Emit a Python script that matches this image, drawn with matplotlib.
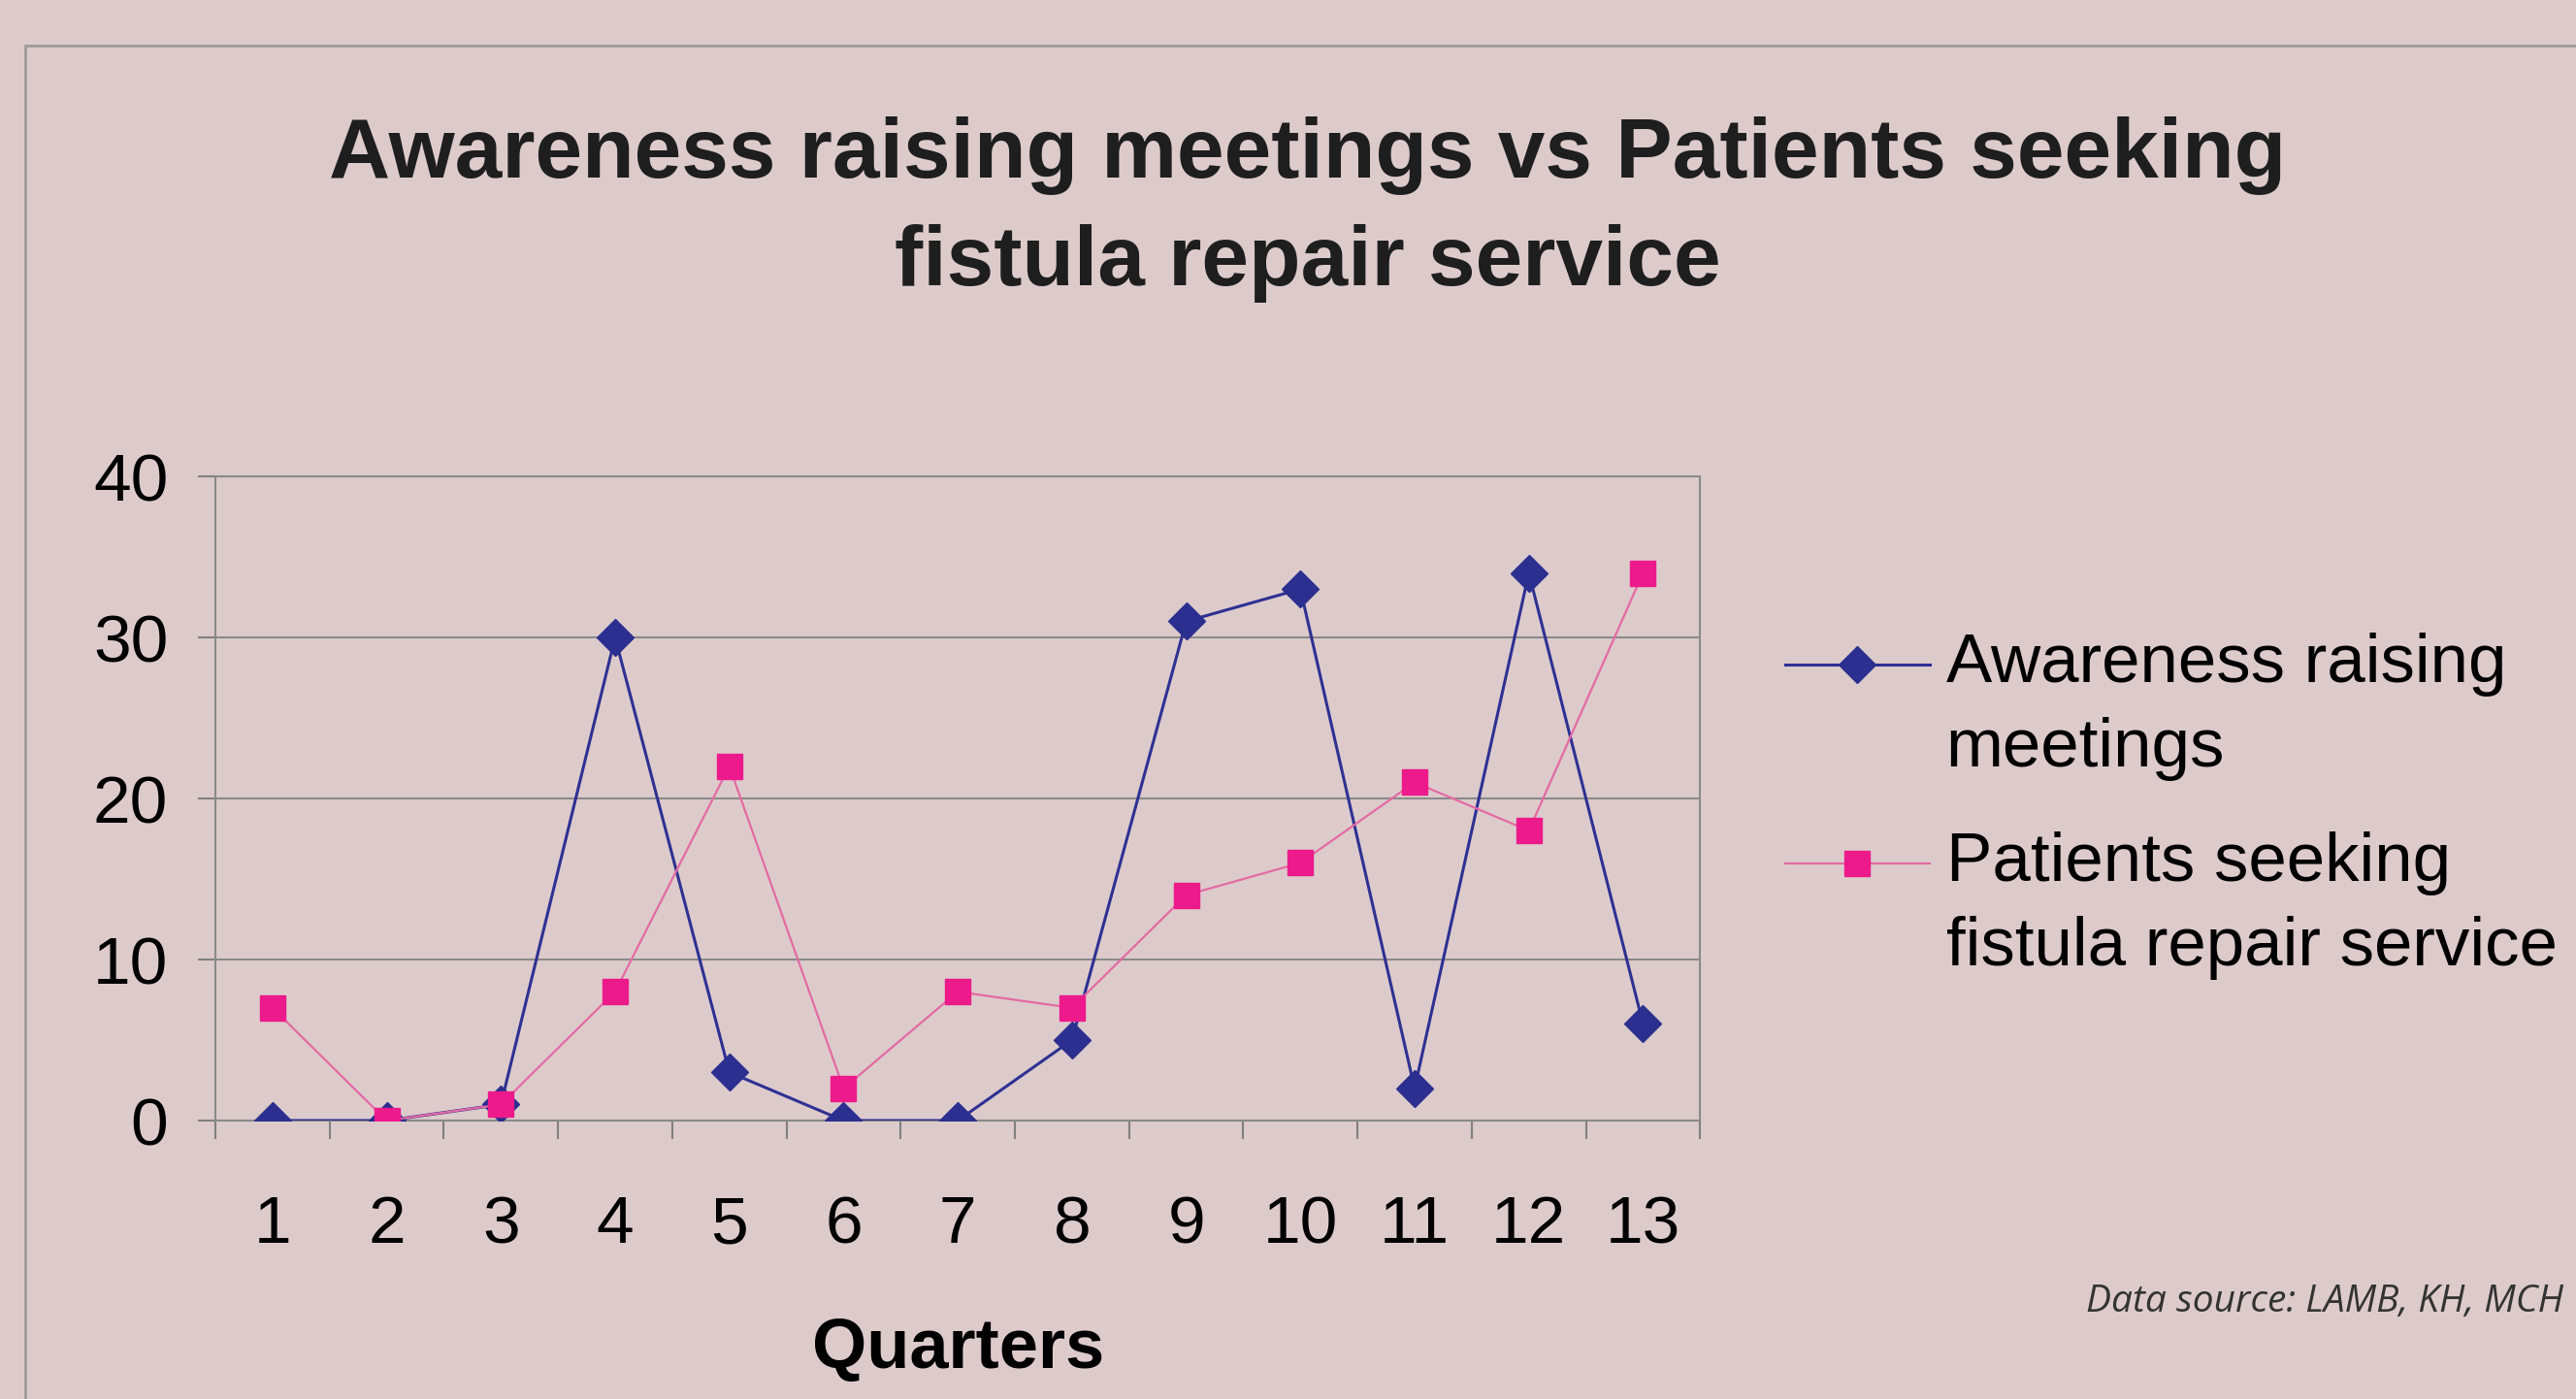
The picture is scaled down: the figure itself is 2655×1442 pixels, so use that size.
import matplotlib
matplotlib.use('Agg')
import matplotlib.pyplot as plt
from matplotlib.legend_handler import HandlerLine2D
from matplotlib.patches import Rectangle
from matplotlib.ticker import FixedLocator

# data
quarters = [1, 2, 3, 4, 5, 6, 7, 8, 9, 10, 11, 12, 13]
meetings = [0, 0, 1, 30, 3, 0, 0, 5, 31, 33, 2, 34, 6]
patients = [7, 0, 1, 8, 22, 2, 8, 7, 14, 16, 21, 18, 34]
y_ticks = [0, 10, 20, 30, 40]

bg = '#ddcbcc'
plt.rcParams['font.family'] = ['Liberation Sans', 'DejaVu Sans']


class TopAlignHandler(HandlerLine2D):
    # put the legend handle next to the first line of a two-line label
    def create_artists(self, legend, orig_handle, xdescent, ydescent,
                       width, height, fontsize, trans):
        return super().create_artists(legend, orig_handle, xdescent,
                                      ydescent - 1.25 * fontsize,
                                      width, height, fontsize, trans)


fig = plt.figure(figsize=(26.55, 14.42), dpi=100, facecolor=bg)
ax = fig.add_axes([0.0836, 0.199, 0.5764, 0.4605])
ax.set_facecolor(bg)

l1, = ax.plot(quarters, meetings, color='#2e3192', lw=2.2, marker='D',
              markersize=19, markerfacecolor='#2b2f8f', markeredgecolor='#2b2f8f',
              label='Awareness raising\nmeetings', zorder=3)
l2, = ax.plot(quarters, patients, color='#e46aa4', lw=1.6, marker='s',
              markersize=19, markerfacecolor='#ec1a8a', markeredgecolor='#ec1a8a',
              label='Patients seeking\nfistula repair service', zorder=4)

ax.set_xlim(0.5, 13.5)
ax.set_ylim(0, 40)
ax.set_yticks(y_ticks)
ax.set_xticks(quarters)
ax.xaxis.set_minor_locator(FixedLocator([q + 0.5 for q in [0] + quarters]))
ax.tick_params(axis='x', which='major', length=0, pad=55, labelsize=50)
ax.tick_params(axis='x', which='minor', length=14, width=1.5, color='#808080', direction='out')
ax.tick_params(axis='y', length=13, width=1.5, color='#808080', pad=22, labelsize=50)
ax.grid(axis='y', color='#8a8a8a', lw=1.5)
ax.set_axisbelow(True)
for s in ax.spines.values():
    s.set_color('#8a8a8a')
    s.set_linewidth(1.5)

ax.set_xlabel('Quarters', fontsize=52, fontweight='bold')
ax.xaxis.set_label_coords(0.5, -0.355)
ax.xaxis.label.set_va('center')

fig.text(0.5077, 0.850, 'Awareness raising meetings vs Patients seeking\nfistula repair service',
         ha='center', va='center', fontsize=63, fontweight='bold', color='#1e1e1e',
         linespacing=1.47)

leg = ax.legend(handles=[l1, l2], loc='upper left', bbox_to_anchor=(0.693, 0.548),
                bbox_transform=fig.transFigure, frameon=False, fontsize=51,
                handlelength=2.1, handletextpad=0.24, labelspacing=0.73,
                borderpad=0, borderaxespad=0,
                handler_map={l1: TopAlignHandler(), l2: TopAlignHandler()})
for t in leg.get_texts():
    t.set_linespacing(1.42)

fig.text(1270 / 1568, 1 - 793 / 852, 'Data source: LAMB, KH, MCH', fontsize=28,
         style='italic', family=['Open Sans', 'DejaVu Sans'], color='#333333', va='center')

# outer frame of the slide panel, runs off the right and bottom edges
fig.patches.append(Rectangle((26 / 2655, -0.1), 1.2, 1 - 47 / 1442 + 0.1,
                             transform=fig.transFigure, fill=False,
                             edgecolor='#a09a9a', lw=2))

fig.savefig('out.png', dpi=100, facecolor=bg)
